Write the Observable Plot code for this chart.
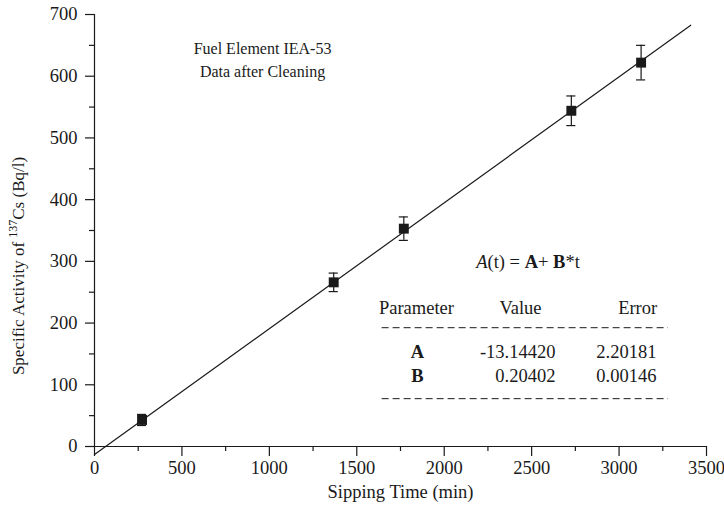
<!DOCTYPE html>
<html><head><meta charset="utf-8">
<script src="https://cdn.jsdelivr.net/npm/d3@7"></script>
<script src="https://cdn.jsdelivr.net/npm/@observablehq/plot@0.6"></script>
<style>body{margin:0;background:#fff} svg{display:block}</style>
</head><body><div id="chart"></div>
<script>
// Measured data (sipping time in min, activity in Bq/l, error)
const time = [272, 1368, 1769, 2727, 3126];
const activity = [43, 266, 353, 544, 622];
const errorBar = [9, 15, 19, 24, 28];
// Linear fit end points
const fitTime = [0, 3410];
const fitActivity = [-13.1, 682.6];
// Ticks
const xTicks = [0, 500, 1000, 1500, 2000, 2500, 3000, 3500];
const yTicks = [0, 100, 200, 300, 400, 500, 600, 700];
const xMinor = [250, 750, 1250, 1750, 2250, 2750, 3250];
const yMinor = [50, 150, 250, 350, 450, 550, 650];
// Texts
const titleLines = ["Fuel Element IEA-53", "Data after Cleaning"];
const xLabel = "Sipping Time (min)";
const tableHeader = ["Parameter", "Value", "Error"];
const paramNames = ["A", "B"];
const paramValues = ["-13.14420", "0.20402"];
const paramErrors = ["2.20181", "0.00146"];

const pts = time.map((t, i) => ({t, a: activity[i], e: errorBar[i]}));
const fit = fitTime.map((t, i) => ({t, a: fitActivity[i]}));
const rows = paramNames.map((n, i) => ({n, v: paramValues[i], err: paramErrors[i], y: [144, 105.3][i]}));

const ink = "#1a1a1a";
const font = "'Liberation Serif', 'Times New Roman', serif";
const capHalf = 26;
const tableSize = 18.5;

const plot = Plot.plot({
  width: 724, height: 517,
  marginLeft: 94, marginRight: 18, marginTop: 14, marginBottom: 71,
  style: {fontFamily: font, fontSize: "18.5px", color: ink, background: "#fff"},
  x: {domain: [0, 3500]},
  y: {domain: [0, 700]},
  marks: [
    Plot.axisX({ticks: xTicks, tickSize: 10, tickPadding: 4, tickFormat: d => String(d), label: null, strokeWidth: 1.2}),
    Plot.axisX({ticks: xMinor, tickSize: 5, text: null, label: null, strokeWidth: 1.2}),
    Plot.axisY({ticks: yTicks, tickSize: 9, tickPadding: 8, tickFormat: d => String(d), label: null, strokeWidth: 1.2}),
    Plot.axisY({ticks: yMinor, tickSize: 5, text: null, label: null, strokeWidth: 1.2}),
    Plot.ruleX([0], {stroke: ink, strokeWidth: 1.2}),
    Plot.ruleY([0], {stroke: ink, strokeWidth: 1.2}),
    Plot.text([xLabel], {frameAnchor: "bottom", dy: 51, text: d => d, fontSize: 18.5}),
    Plot.line(fit, {x: "t", y: "a", stroke: ink, strokeWidth: 1.2}),
    Plot.ruleX(pts, {x: "t", y1: d => d.a - d.e, y2: d => d.a + d.e, stroke: ink, strokeWidth: 1.2}),
    Plot.ruleY(pts, {y: d => d.a + d.e, x1: d => d.t - capHalf, x2: d => d.t + capHalf, stroke: ink, strokeWidth: 1.2}),
    Plot.ruleY(pts, {y: d => d.a - d.e, x1: d => d.t - capHalf, x2: d => d.t + capHalf, stroke: ink, strokeWidth: 1.2}),
    Plot.dot(pts, {x: "t", y: "a", symbol: "square", r: 5.6, fill: ink, stroke: "none"}),
    // title annotation
    Plot.text(titleLines, {x: 961, y: (d, i) => [636.8, 599.5][i], text: d => d, lineAnchor: "bottom", fontSize: 16}),
    // table
    Plot.text(tableHeader.slice(0, 2), {x: (d, i) => [1841, 2436][i], y: 215.5, text: d => d, lineAnchor: "bottom", textAnchor: "middle", fontSize: tableSize}),
    Plot.text(tableHeader.slice(2), {x: 3218, y: 215.5, text: d => d, lineAnchor: "bottom", textAnchor: "end", fontSize: tableSize}),
    Plot.ruleY([192.5, 77.5], {x1: 1645, x2: 3283, stroke: ink, strokeWidth: 1, strokeDasharray: "7,4"}),
    Plot.text(rows, {x: 1847, y: "y", text: "n", lineAnchor: "bottom", fontWeight: "bold", fontSize: tableSize}),
    Plot.text(rows, {x: 2636, y: "y", text: "v", lineAnchor: "bottom", textAnchor: "end", fontSize: tableSize}),
    Plot.text(rows, {x: 3214, y: "y", text: "err", lineAnchor: "bottom", textAnchor: "end", fontSize: tableSize})
  ]
});
document.getElementById("chart").appendChild(plot);

// Rich text elements (superscript, bold/italic mix)
const svg = d3.select(plot);
const sx = plot.scale("x"), sy = plot.scale("y");
const ylab = svg.append("text")
  .attr("transform", `translate(24, ${(sy.apply(0) + sy.apply(700)) / 2 + 36}) rotate(-90)`)
  .attr("text-anchor", "middle").attr("font-family", font).attr("font-size", 17).attr("fill", ink);
ylab.append("tspan").text("Specific Activity of ");
ylab.append("tspan").attr("font-size", 12).attr("dy", -7).text("137");
ylab.append("tspan").attr("dy", 7).text("Cs (Bq/l)");

const formula = svg.append("text")
  .attr("x", sx.apply(2482)).attr("y", sy.apply(288.4))
  .attr("text-anchor", "middle").attr("font-family", font).attr("font-size", tableSize).attr("fill", ink);
formula.append("tspan").attr("font-style", "italic").text("A");
formula.append("tspan").text("(t) = ");
formula.append("tspan").attr("font-weight", "bold").text("A");
formula.append("tspan").text("+ ");
formula.append("tspan").attr("font-weight", "bold").text("B");
formula.append("tspan").text("*t");
</script></body></html>
